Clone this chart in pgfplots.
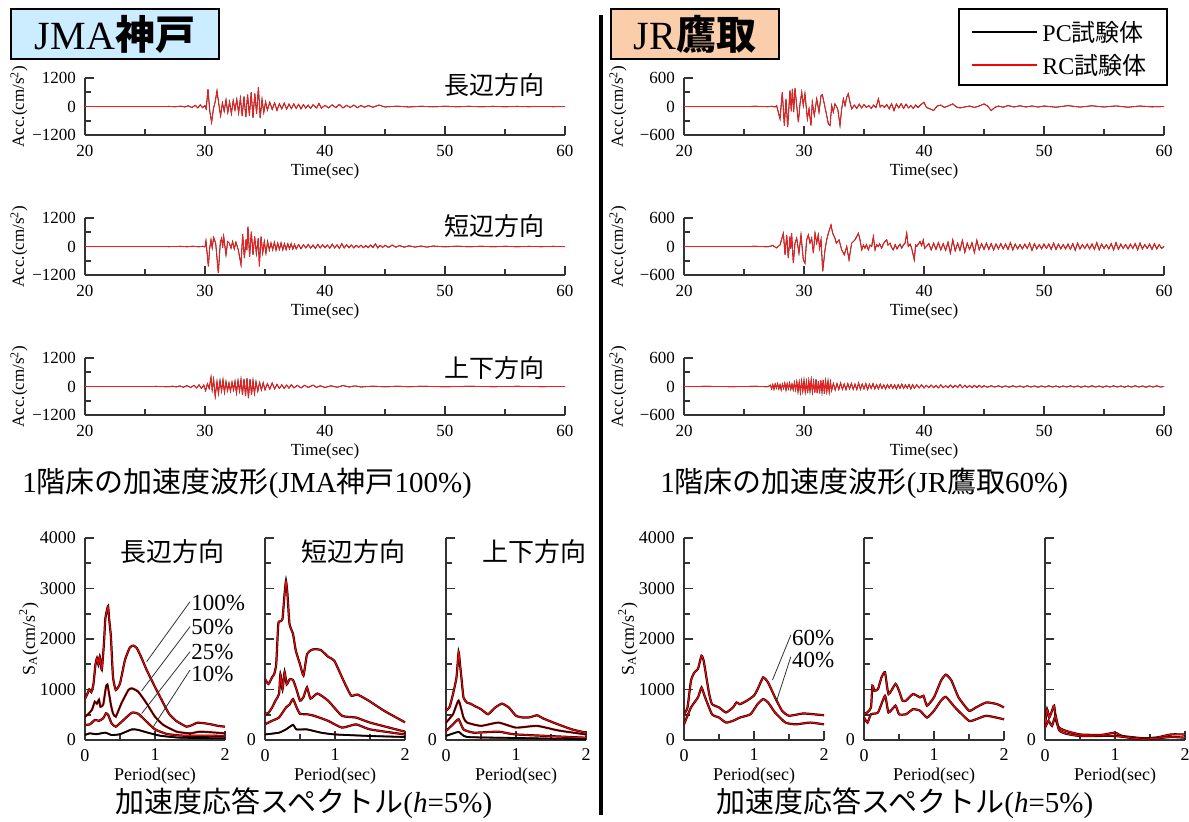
\documentclass[border=0pt]{standalone}
\usepackage{fontspec}
\setmainfont{Liberation Serif}
\newfontfamily\jp{Noto Sans CJK JP}
\usepackage{pgfplots}
\usepackage{pgfplotstable}
\pgfplotsset{compat=1.18}
\newcommand\J[1]{{\jp #1}}

% ---------- time histories ----------
\pgfplotstableread[row sep=\\]{t a\\20 0\\21 3\\22 -2\\23 4\\24 -3\\25 2\\26 -4\\27 5\\27.5 -10\\28 15\\28.3 -20\\28.6 30\\28.9 -40\\29.2 50\\29.4 -60\\29.6 70\\29.8 -50\\30.0 40\\30.1 -100\\30.25 730\\30.4 -200\\30.55 -670\\30.7 -100\\30.85 200\\31.0 660\\31.15 100\\31.3 -390\\31.45 150\\31.6 -200\\31.75 280\\31.9 -250\\32.05 200\\32.2 -300\\32.35 250\\32.5 -150\\32.65 300\\32.8 -280\\32.95 350\\33.1 -400\\33.25 420\\33.4 -450\\33.55 500\\33.7 -380\\33.85 600\\34.0 -480\\34.15 550\\34.3 -300\\34.45 800\\34.6 -490\\34.75 300\\34.9 -250\\35.05 200\\35.2 -150\\35.4 180\\35.6 -120\\35.8 150\\36.0 -160\\36.2 120\\36.4 -100\\36.6 140\\36.8 -110\\37.0 100\\37.2 -90\\37.4 110\\37.6 -80\\37.8 90\\38.0 -100\\38.2 80\\38.4 -70\\38.6 60\\38.8 -80\\39.0 70\\39.3 -60\\39.5 130\\39.7 -70\\40.0 50\\40.3 -60\\40.6 70\\40.9 -50\\41.2 90\\41.5 -60\\41.8 50\\42.1 -40\\42.4 60\\42.7 -50\\43.0 40\\43.3 -30\\43.6 40\\44.0 -30\\44.5 60\\45 -20\\46 15\\47 -20\\48 10\\49 -15\\50 12\\51 -10\\52 8\\53 -10\\54 6\\55 -8\\56 5\\57 -6\\58 4\\59 -5\\60 0\\}\tLa

\pgfplotstableread[row sep=\\]{t a\\20 0\\22 3\\24 -3\\26 4\\27 -5\\28 6\\28.5 -8\\29 10\\29.5 -12\\29.8 10\\30.0 -20\\30.08 240\\30.28 -840\\30.39 -70\\30.5 280\\30.6 -60\\30.72 380\\30.89 140\\31.11 -1120\\31.28 200\\31.39 350\\31.47 -50\\31.56 420\\31.75 -350\\31.89 210\\32.03 140\\32.17 -70\\32.3 210\\32.44 -100\\32.58 180\\32.78 -150\\33.0 -770\\33.14 520\\33.28 -490\\33.42 300\\33.49 -150\\33.58 840\\33.72 -420\\33.86 630\\34.0 -350\\34.14 420\\34.28 -300\\34.44 350\\34.53 -840\\34.67 420\\34.81 -280\\34.94 210\\35.08 -280\\35.22 210\\35.36 -150\\35.5 150\\35.64 -140\\35.78 180\\35.92 -150\\36.06 140\\36.2 -130\\36.34 150\\36.48 -140\\36.62 120\\36.76 -130\\36.9 110\\37.04 -100\\37.18 120\\37.32 -110\\37.46 90\\37.6 -100\\37.8 80\\38 -90\\38.2 70\\38.4 -60\\38.6 80\\38.8 -70\\39 60\\39.2 -80\\39.4 90\\39.6 -60\\39.8 70\\40 -50\\40.2 60\\40.4 -70\\40.6 100\\40.8 -60\\41 70\\41.2 -80\\41.4 120\\41.6 -60\\41.8 70\\42 -50\\42.2 60\\42.4 -60\\42.6 50\\42.8 -40\\43 60\\43.2 -50\\43.4 40\\43.6 -50\\43.8 60\\44 -40\\44.2 110\\44.4 -60\\44.6 50\\44.8 -40\\45 50\\45.3 -40\\45.6 60\\45.9 -30\\46.2 40\\46.6 -30\\47 30\\47.5 -25\\48 20\\48.5 -25\\49 20\\50 -15\\51 15\\52 -12\\53 10\\54 -10\\55 8\\56 -8\\57 6\\58 -6\\59 5\\60 0\\}\tLb

\pgfplotstableread[row sep=\\]{t a\\20 0\\22 3\\24 -4\\26 5\\27 -10\\27.3 15\\27.6 -20\\27.9 25\\28.2 -30\\28.5 35\\28.8 -40\\29.1 50\\29.3 -60\\29.5 70\\29.7 -80\\29.9 60\\30.05 -180\\30.2 120\\30.35 -80\\30.5 390\\30.6 -150\\30.72 300\\30.85 -420\\31.0 200\\31.12 -300\\31.25 250\\31.38 -200\\31.5 280\\31.62 -250\\31.75 200\\31.88 -180\\32.0 150\\32.12 -200\\32.25 180\\32.38 -150\\32.5 220\\32.62 -280\\32.75 250\\32.88 -200\\33.0 300\\33.12 -350\\33.25 320\\33.38 -400\\33.5 350\\33.62 -490\\33.75 310\\33.88 -350\\34.0 250\\34.12 -300\\34.25 200\\34.4 -200\\34.55 170\\34.7 -150\\34.85 160\\35.0 -140\\35.2 120\\35.4 -110\\35.6 150\\35.8 -100\\36.0 90\\36.2 -80\\36.4 70\\36.6 -80\\36.8 60\\37.0 -70\\37.2 80\\37.4 -60\\37.7 50\\38.0 -60\\38.3 50\\38.6 -40\\39.0 60\\39.3 -40\\39.6 30\\40 -40\\40.5 30\\41 -30\\41.5 40\\42 -20\\42.5 25\\43 -20\\44 15\\45 -15\\46 12\\47 -10\\48 10\\50 -8\\52 8\\54 -6\\56 6\\58 -5\\60 0\\}\tLc

\pgfplotstableread[row sep=\\]{t a\\20 0\\22 2\\24 -2\\26 3\\27 -3\\27.3 5\\27.6 -10\\27.72 20\\28.0 -260\\28.19 300\\28.36 -400\\28.5 160\\28.64 -435\\28.83 340\\28.94 -100\\29.03 370\\29.14 -120\\29.25 385\\29.39 20\\29.53 -330\\29.67 60\\29.81 300\\29.94 20\\30.08 270\\30.28 -260\\30.42 -50\\30.58 -400\\30.69 90\\30.86 -190\\31.06 160\\31.25 -120\\31.42 230\\31.53 250\\31.69 55\\31.89 -190\\32.03 -365\\32.17 -400\\32.31 20\\32.44 -120\\32.58 55\\32.81 -50\\33.0 -400\\33.14 -50\\33.28 160\\33.42 20\\33.56 200\\33.69 270\\33.83 90\\33.97 -50\\34.2 30\\34.4 -40\\34.6 50\\34.8 -30\\35.0 40\\35.2 -20\\35.4 20\\35.6 -40\\35.8 30\\36.0 -20\\36.2 160\\36.35 -10\\36.5 30\\36.7 -20\\36.9 40\\37.1 -50\\37.3 60\\37.5 -85\\37.7 50\\37.9 -30\\38.1 60\\38.3 -40\\38.5 50\\38.7 -30\\38.9 20\\39.1 -40\\39.3 30\\39.5 -20\\39.7 30\\40.0 90\\40.2 -20\\40.5 -50\\40.8 -85\\41.1 10\\41.4 30\\41.7 -20\\42.0 10\\42.4 55\\42.7 -10\\43.0 -30\\43.4 -10\\43.8 10\\44.2 -20\\44.6 10\\45.0 55\\45.3 10\\45.6 -85\\45.9 -20\\46.2 10\\46.6 -15\\47 20\\47.5 -10\\48 15\\48.5 -10\\49 12\\49.5 -12\\50 10\\51 -15\\52 18\\53 -12\\54 15\\55 -10\\56 12\\57 -15\\58 10\\59 -8\\60 0\\}\tRa

\pgfplotstableread[row sep=\\]{t a\\20 0\\22 2\\24 -2\\26 3\\27 -5\\27.4 20\\27.7 -30\\28.0 30\\28.28 280\\28.42 -175\\28.56 245\\28.69 -245\\28.83 210\\28.9 -50\\28.97 280\\29.11 -350\\29.25 70\\29.39 175\\29.58 -140\\29.75 245\\29.94 -280\\30.08 -350\\30.22 140\\30.36 245\\30.5 70\\30.64 175\\30.78 -140\\30.92 280\\31.06 70\\31.19 245\\31.3 -40\\31.42 140\\31.56 -525\\31.75 -70\\31.89 140\\32.03 280\\32.25 455\\32.39 280\\32.58 175\\32.69 70\\32.92 140\\33.14 -70\\33.36 -175\\33.56 0\\33.75 -280\\33.97 70\\34.25 140\\34.53 280\\34.67 140\\34.81 -70\\34.95 30\\35.08 -35\\35.2 40\\35.36 -70\\35.5 30\\35.64 0\\35.78 210\\35.92 -70\\36.05 40\\36.19 0\\36.3 60\\36.47 -35\\36.6 50\\36.75 105\\36.89 140\\37.0 30\\37.17 70\\37.3 -20\\37.44 -70\\37.6 40\\37.75 -50\\37.86 0\\38.0 50\\38.14 -35\\38.3 40\\38.42 70\\38.56 280\\38.69 0\\38.85 50\\38.97 -35\\39.19 -280\\39.3 30\\39.39 0\\39.55 60\\39.67 105\\39.8 20\\39.94 140\\40.05 -40\\40.2 0\\40.4 60\\40.6 -70\\40.8 70\\41.0 -60\\41.2 80\\41.4 -70\\41.6 60\\41.8 -80\\42.0 90\\42.2 -140\\42.4 140\\42.6 -90\\42.8 70\\43.0 -80\\43.2 130\\43.4 -120\\43.6 70\\43.8 -60\\44.0 80\\44.2 -130\\44.4 130\\44.6 -70\\44.8 60\\45.0 -60\\45.2 70\\45.4 -60\\45.6 60\\45.8 -70\\46.0 50\\46.2 -50\\46.4 60\\46.6 -50\\46.8 50\\47.0 -60\\47.2 80\\47.4 -70\\47.6 50\\47.8 -50\\48.0 40\\48.2 -50\\48.4 50\\48.6 -40\\48.8 70\\49.0 -80\\49.2 60\\49.4 -50\\49.6 40\\49.8 -50\\50.0 50\\50.2 -40\\50.4 50\\50.6 -60\\50.8 70\\51.0 -60\\51.2 50\\51.4 -50\\51.6 40\\51.8 -50\\52.0 50\\52.2 -60\\52.4 60\\52.6 -80\\52.8 70\\53.0 -50\\53.2 40\\53.4 -40\\53.6 50\\53.8 -50\\54.0 50\\54.2 -60\\54.4 80\\54.6 -70\\54.8 50\\55.0 -40\\55.2 40\\55.4 -50\\55.6 60\\55.8 -70\\56.0 80\\56.2 -60\\56.4 50\\56.6 -40\\56.8 40\\57.0 -50\\57.2 50\\57.4 -40\\57.6 60\\57.8 -70\\58.0 70\\58.2 -50\\58.4 40\\58.6 -40\\58.8 50\\59.0 -60\\59.2 60\\59.4 -50\\59.6 40\\59.8 -40\\60.0 0\\}\tRb

\pgfplotstableread[row sep=\\]{t a\\20 0\\22 3\\24 -3\\26 4\\27 -5\\27.2 30\\27.3 -50\\27.4 40\\27.5 -60\\27.6 50\\27.7 -35\\27.8 60\\27.9 -50\\28.0 40\\28.1 -70\\28.2 50\\28.3 -40\\28.4 70\\28.5 -75\\28.6 60\\28.7 -50\\28.8 75\\28.9 -60\\29.0 50\\29.1 -70\\29.2 85\\29.3 -75\\29.4 100\\29.5 -110\\29.6 90\\29.7 -125\\29.8 115\\29.9 -100\\30.0 130\\30.1 -115\\30.2 105\\30.3 -140\\30.4 120\\30.5 -100\\30.6 140\\30.7 -120\\30.8 105\\30.9 -130\\31.0 155\\31.1 -140\\31.2 115\\31.3 -145\\31.4 130\\31.5 -115\\31.6 140\\31.7 -155\\31.8 120\\31.9 -105\\32.0 115\\32.1 -120\\32.2 100\\32.3 -85\\32.45 65\\32.6 -75\\32.75 60\\32.9 -65\\33.05 75\\33.2 -60\\33.35 50\\33.5 -65\\33.65 60\\33.8 -50\\33.95 65\\34.1 -60\\34.25 50\\34.4 -65\\34.55 75\\34.7 -60\\34.85 50\\35.0 -50\\35.15 60\\35.3 -65\\35.45 50\\35.6 -40\\35.75 60\\35.9 -50\\36.05 40\\36.2 -50\\36.35 50\\36.5 -40\\36.65 35\\36.8 -50\\36.95 40\\37.1 -35\\37.25 40\\37.4 -40\\37.55 35\\37.7 -50\\37.85 40\\38.0 -35\\38.15 50\\38.3 -40\\38.45 35\\38.6 -35\\38.75 40\\38.9 -50\\39.05 40\\39.2 -35\\39.4 35\\39.6 -30\\39.8 35\\40.0 -30\\40.2 25\\40.4 -25\\40.6 30\\40.8 -25\\41.0 25\\41.2 -30\\41.4 35\\41.6 -25\\41.8 20\\42.0 -25\\42.2 30\\42.4 -25\\42.6 25\\42.8 -20\\43.0 40\\43.2 -25\\43.4 25\\43.6 -20\\43.8 20\\44.0 -25\\44.2 25\\44.4 -20\\44.6 25\\44.8 -20\\45.0 15\\45.3 -15\\45.6 15\\45.9 -12\\46.2 15\\46.5 -15\\46.8 12\\47.1 -15\\47.4 15\\47.7 -12\\48.0 12\\48.3 -15\\48.6 15\\48.9 -12\\49.2 12\\49.5 -15\\49.8 12\\50.1 -12\\50.4 15\\50.7 -12\\51.0 12\\51.3 -15\\51.6 12\\51.9 -12\\52.2 15\\52.5 -12\\52.8 12\\53.1 -15\\53.4 12\\53.7 -12\\54.0 15\\54.3 -12\\54.6 12\\54.9 -15\\55.2 12\\55.5 -12\\55.8 15\\56.1 -12\\56.4 12\\56.7 -15\\57.0 12\\57.3 -12\\57.6 15\\57.9 -12\\58.2 12\\58.5 -15\\58.8 12\\59.1 -12\\59.4 15\\59.7 -12\\60.0 0\\}\tRc

% ---------- spectra: JMA Kobe ----------
\pgfplotstableread[row sep=\\]{T s\\0 820\\0.03 900\\0.06 1000\\0.09 950\\0.12 1100\\0.15 1500\\0.17 1620\\0.19 1500\\0.21 1650\\0.24 1390\\0.27 1900\\0.29 2400\\0.31 2550\\0.33 2650\\0.345 2400\\0.37 2050\\0.4 1250\\0.44 990\\0.5 1120\\0.57 1580\\0.64 1830\\0.69 1870\\0.74 1820\\0.8 1650\\0.88 1390\\1.0 1050\\1.12 726\\1.2 520\\1.3 380\\1.36 330\\1.45 264\\1.52 290\\1.6 340\\1.69 335\\1.8 310\\1.9 280\\2.0 264\\}\sAa
\pgfplotstableread[row sep=\\]{T s\\0 460\\0.05 520\\0.1 600\\0.14 760\\0.17 720\\0.2 800\\0.22 660\\0.26 700\\0.3 1056\\0.32 1100\\0.34 950\\0.37 700\\0.4 528\\0.44 462\\0.52 726\\0.62 990\\0.67 1023\\0.76 957\\0.88 726\\1.0 462\\1.12 297\\1.31 165\\1.5 132\\1.64 165\\1.83 150\\2.0 132\\}\sAb
\pgfplotstableread[row sep=\\]{T s\\0 297\\0.07 310\\0.14 396\\0.2 380\\0.26 430\\0.3 528\\0.33 500\\0.38 330\\0.44 264\\0.55 396\\0.67 541\\0.76 520\\0.88 363\\1.0 211\\1.17 119\\1.4 86\\1.7 86\\2.0 80\\}\sAc
\pgfplotstableread[row sep=\\]{T s\\0 99\\0.07 132\\0.16 115\\0.29 145\\0.38 99\\0.5 115\\0.67 211\\0.76 200\\0.88 152\\1.07 86\\1.36 46\\2.0 33\\}\sAd

\pgfplotstableread[row sep=\\]{T s\\0 1210\\0.05 1110\\0.1 1240\\0.13 1300\\0.16 1500\\0.19 2300\\0.22 2350\\0.25 2400\\0.28 2900\\0.3 3150\\0.32 2900\\0.35 2300\\0.4 2100\\0.44 1770\\0.5 1500\\0.55 1280\\0.6 1700\\0.66 1780\\0.71 1800\\0.8 1780\\0.9 1650\\0.99 1570\\1.12 1180\\1.23 880\\1.32 900\\1.48 780\\1.7 580\\2.0 350\\}\sBa
\pgfplotstableread[row sep=\\]{T s\\0 510\\0.05 540\\0.1 640\\0.15 780\\0.2 910\\0.22 1300\\0.25 1000\\0.28 1350\\0.31 1100\\0.35 1200\\0.4 1190\\0.45 1000\\0.5 780\\0.55 850\\0.6 1040\\0.65 820\\0.75 920\\0.9 780\\1.1 480\\1.3 445\\1.5 345\\2.0 165\\}\sBb
\pgfplotstableread[row sep=\\]{T s\\0 310\\0.1 380\\0.2 445\\0.3 645\\0.35 700\\0.4 810\\0.45 650\\0.5 520\\0.6 510\\0.7 480\\0.9 380\\1.1 245\\1.3 310\\1.5 210\\2.0 110\\}\sBc
\pgfplotstableread[row sep=\\]{T s\\0 110\\0.2 145\\0.3 210\\0.4 300\\0.45 210\\0.6 210\\0.8 145\\1.0 110\\1.5 80\\2.0 60\\}\sBd

\pgfplotstableread[row sep=\\]{T s\\0 580\\0.05 650\\0.1 910\\0.15 1240\\0.18 1740\\0.2 1500\\0.22 1240\\0.25 840\\0.3 740\\0.35 720\\0.4 680\\0.5 610\\0.6 510\\0.7 640\\0.8 720\\0.9 640\\1.0 480\\1.1 445\\1.2 450\\1.3 490\\1.4 420\\1.6 310\\1.8 210\\2.0 145\\}\sCa
\pgfplotstableread[row sep=\\]{T s\\0 345\\0.1 510\\0.18 780\\0.25 445\\0.3 345\\0.5 280\\0.75 345\\1.0 245\\1.3 280\\1.6 190\\2.0 110\\}\sCb
\pgfplotstableread[row sep=\\]{T s\\0 180\\0.1 310\\0.18 410\\0.25 210\\0.4 145\\0.75 165\\1.0 110\\2.0 45\\}\sCc
\pgfplotstableread[row sep=\\]{T s\\0 80\\0.18 160\\0.3 60\\1.0 40\\2.0 15\\}\sCd

% ---------- spectra: JR Takatori ----------
\pgfplotstableread[row sep=\\]{T s\\0 510\\0.05 645\\0.1 1180\\0.15 1340\\0.2 1410\\0.25 1670\\0.28 1575\\0.32 1240\\0.36 910\\0.4 710\\0.5 645\\0.6 545\\0.7 645\\0.75 745\\0.8 710\\0.9 780\\1.0 880\\1.05 1000\\1.13 1240\\1.2 1140\\1.3 845\\1.4 580\\1.5 480\\1.7 525\\1.85 510\\2.0 490\\}\sDa
\pgfplotstableread[row sep=\\]{T s\\0 310\\0.1 645\\0.2 845\\0.25 1040\\0.3 850\\0.4 510\\0.5 445\\0.6 345\\0.7 380\\0.8 445\\0.95 510\\1.05 710\\1.13 810\\1.2 745\\1.3 545\\1.45 345\\1.6 310\\1.8 345\\2.0 310\\}\sDb
\pgfplotstableread[row sep=\\]{T s\\0 510\\0.05 550\\0.1 645\\0.12 1075\\0.15 975\\0.2 1010\\0.25 1240\\0.3 1340\\0.35 910\\0.45 1110\\0.5 975\\0.55 780\\0.6 780\\0.7 910\\0.8 845\\0.85 875\\0.9 680\\1.0 845\\1.1 1175\\1.17 1295\\1.25 1175\\1.35 845\\1.5 580\\1.6 645\\1.75 745\\1.9 710\\2.0 645\\}\sEa
\pgfplotstableread[row sep=\\]{T s\\0 445\\0.05 345\\0.1 510\\0.2 545\\0.3 875\\0.35 545\\0.45 680\\0.5 510\\0.6 510\\0.7 610\\0.8 580\\0.9 445\\1.0 580\\1.1 780\\1.17 855\\1.3 645\\1.5 380\\1.6 410\\1.75 480\\2.0 410\\}\sEb
\pgfplotstableread[row sep=\\]{T s\\0 310\\0.03 610\\0.06 445\\0.1 580\\0.13 680\\0.16 380\\0.2 245\\0.3 180\\0.5 110\\0.8 100\\1.0 145\\1.1 80\\1.4 35\\1.6 50\\1.8 110\\2.0 110\\}\sFa
\pgfplotstableread[row sep=\\]{T s\\0 245\\0.05 380\\0.1 280\\0.15 480\\0.2 195\\0.3 125\\0.5 80\\1.0 80\\1.4 15\\1.8 60\\2.0 45\\}\sFb

\newcommand\pT[1]{\addplot[black,line width=0.4pt] table{#1};\addplot[red!90!white,line width=0.4pt] table{#1};}
\newcommand\pR[1]{\addplot[black,line width=1.1pt,smooth,tension=0.3] table{#1};\addplot[red,line width=0.55pt,smooth,tension=0.3] table{#1};}
\newcommand\pB[1]{\addplot[red,line width=1.1pt,smooth,tension=0.3] table{#1};\addplot[black,line width=0.6pt,smooth,tension=0.3] table{#1};}
\newcommand\pK[1]{\addplot[red,line width=0.8pt,smooth,tension=0.3] table{#1};\addplot[black,line width=0.9pt,smooth,tension=0.3] table{#1};}

\pgfplotsset{
  myax/.style={scale only axis, axis lines=left,
    axis line style={-,line width=0.9pt,black!80},
    every tick/.style={line width=0.9pt,black!80},
    tick align=inside, major tick length=4.5pt, minor tick length=2.8pt, clip=false},
  th/.style={myax, width=240pt, height=28.5pt, xmin=20, xmax=60,
    xtick={20,30,40,50,60}, minor xtick={25,35,45,55}, xticklabels={20,30,40,50,60},
    tick label style={font=\fontsize{8.5}{9}\selectfont},
    xticklabel style={yshift=-1.5pt}, yticklabel style={xshift=-1pt},
    xlabel={Time(sec)}, ylabel={Acc.(cm/s\textsuperscript{2})},
    label style={font=\fontsize{8.5}{9}\selectfont},
    xlabel style={at={(axis description cs:0.5,-0.632)}, anchor=center},
    ylabel style={at={(axis description cs:-0.1375,0.5)}, anchor=center}},
  thL/.style={th, ymin=-1200, ymax=1200, ytick={-1200,0,1200}, minor ytick={-600,600}, yticklabels={−1200,0,1200}},
  thR/.style={th, ymin=-600, ymax=600, ytick={-600,0,600}, minor ytick={-300,300}, yticklabels={−600,0,600}},
  sp/.style={myax, width=70pt, height=101pt, xmin=0, xmax=2, ymin=0, ymax=4000,
    xtick={0,1,2}, minor xtick={0.5,1.5}, xticklabels={0,1,2},
    ytick={0,1000,2000,3000,4000}, minor ytick={500,1500,2500,3500},
    tick label style={font=\fontsize{9}{10}\selectfont},
    xticklabel style={yshift=-1pt}, yticklabel style={xshift=-1pt},
    xlabel={Period(sec)}, label style={font=\fontsize{9}{10}\selectfont},
    xlabel style={at={(axis description cs:0.5,-0.178)}, anchor=center},
    ylabel style={at={(axis description cs:-0.40,0.5)}, anchor=center}},
  sp1/.style={sp, yticklabels={0,1000,2000,3000,4000}, ylabel={S\textsubscript{A}(cm/s\textsuperscript{2})}},
  sp2/.style={sp, yticklabels={0,{},{},{},{}}},
}

\begin{document}
\begin{tikzpicture}
\path[use as bounding box] (0,0) rectangle (594.5pt,410.5pt);

% time histories left
\begin{axis}[thL, at={(42.5pt,343pt)}, anchor=south west]\pT{\tLa}\end{axis}
\begin{axis}[thL, at={(42.5pt,273pt)}, anchor=south west]\pT{\tLb}\end{axis}
\begin{axis}[thL, at={(42.5pt,203pt)}, anchor=south west]\pT{\tLc}\end{axis}
% time histories right
\begin{axis}[thR, at={(342pt,343pt)}, anchor=south west]\pT{\tRa}\end{axis}
\begin{axis}[thR, at={(342pt,273pt)}, anchor=south west]\pT{\tRb}\end{axis}
\begin{axis}[thR, at={(342pt,203pt)}, anchor=south west]\pT{\tRc}\end{axis}

% spectra left
\begin{axis}[sp1, at={(42.5pt,40.5pt)}, anchor=south west]
\pR{\sAa}\pB{\sAb}\pR{\sAc}\pK{\sAd}
\draw[black!80,line width=0.4pt] (axis cs:0.88,1550) -- (axis cs:1.5,2739);
\draw[black!80,line width=0.4pt] (axis cs:0.81,975) -- (axis cs:1.5,2244);
\draw[black!80,line width=0.4pt] (axis cs:0.81,525) -- (axis cs:1.5,1748);
\draw[black!80,line width=0.4pt] (axis cs:0.976,264) -- (axis cs:1.5,1386);
\node[anchor=west,inner sep=0.5pt,font=\fontsize{11.5}{12}\selectfont] at (axis cs:1.5,2713) {100\%};
\node[anchor=west,inner sep=0.5pt,font=\fontsize{11.5}{12}\selectfont] at (axis cs:1.5,2238) {50\%};
\node[anchor=west,inner sep=0.5pt,font=\fontsize{11.5}{12}\selectfont] at (axis cs:1.5,1743) {25\%};
\node[anchor=west,inner sep=0.5pt,font=\fontsize{11.5}{12}\selectfont] at (axis cs:1.5,1307) {10\%};
\end{axis}
\begin{axis}[sp2, at={(132.5pt,40.5pt)}, anchor=south west]
\pR{\sBa}\pR{\sBb}\pR{\sBc}\pK{\sBd}
\end{axis}
\begin{axis}[sp2, at={(223pt,40.5pt)}, anchor=south west]
\pR{\sCa}\pB{\sCb}\pR{\sCc}\pK{\sCd}
\end{axis}

% spectra right
\begin{axis}[sp1, at={(342pt,40.5pt)}, anchor=south west]
\pR{\sDa}\pR{\sDb}
\draw[black!80,line width=0.4pt] (axis cs:1.264,1188) -- (axis cs:1.526,2079);
\draw[black!80,line width=0.4pt] (axis cs:1.319,758) -- (axis cs:1.526,1650);
\node[anchor=west,inner sep=0.5pt,font=\fontsize{11.5}{12}\selectfont] at (axis cs:1.526,2020) {60\%};
\node[anchor=west,inner sep=0.5pt,font=\fontsize{11.5}{12}\selectfont] at (axis cs:1.526,1584) {40\%};
\end{axis}
\begin{axis}[sp2, at={(432pt,40.5pt)}, anchor=south west]
\pR{\sEa}\pR{\sEb}
\end{axis}
\begin{axis}[sp2, at={(522.5pt,40.5pt)}, anchor=south west]
\pR{\sFa}\pR{\sFb}
\end{axis}

% divider
\draw[black,line width=2pt] (300.5pt,3pt) -- (300.5pt,403pt);

% title boxes
\draw[black,line width=0.6pt,fill={rgb,255:red,204;green,236;blue,255}] (5.5pt,381pt) rectangle (109.5pt,406pt);
\node at (57.5pt,393.5pt) {\fontsize{20}{22}\selectfont JMA{\jp\bfseries 神戸}};
\draw[black,line width=0.6pt,fill={rgb,255:red,250;green,206;blue,170}] (305.5pt,381pt) rectangle (389.5pt,406pt);
\node at (347.5pt,393.5pt) {\fontsize{20}{22}\selectfont JR{\jp\bfseries 鷹取}};

% legend
\draw[black,line width=0.7pt,fill=white] (479.5pt,368pt) rectangle (583.5pt,406pt);
\draw[black,line width=1.3pt] (486pt,394.5pt) -- (518.5pt,394.5pt);
\draw[red,line width=1.3pt] (486pt,378pt) -- (518.5pt,378pt);
\node[anchor=west,inner sep=0pt] at (521pt,394.5pt) {\fontsize{12}{14}\selectfont PC\J{試験体}};
\node[anchor=west,inner sep=0pt] at (521pt,378pt) {\fontsize{12}{14}\selectfont RC\J{試験体}};

% direction labels (time histories)
\node[anchor=east,inner sep=0pt] at (272.5pt,368pt) {\jp\fontsize{12.5}{14}\selectfont 長辺方向};
\node[anchor=east,inner sep=0pt] at (272.5pt,297.5pt) {\jp\fontsize{12.5}{14}\selectfont 短辺方向};
\node[anchor=east,inner sep=0pt] at (272.5pt,226.5pt) {\jp\fontsize{12.5}{14}\selectfont 上下方向};

% direction labels (spectra)
\node[anchor=east,inner sep=0pt] at (112.5pt,134.5pt) {\jp\fontsize{13}{14}\selectfont 長辺方向};
\node[anchor=east,inner sep=0pt] at (203pt,134.5pt) {\jp\fontsize{13}{14}\selectfont 短辺方向};
\node[anchor=east,inner sep=0pt] at (293.5pt,134.5pt) {\jp\fontsize{13}{14}\selectfont 上下方向};

% captions
\node[anchor=west,inner sep=0pt] at (11pt,169pt) {\fontsize{14.5}{16}\selectfont 1\J{階床の加速度波形}(JMA\J{神戸}100\%)};
\node[anchor=west,inner sep=0pt] at (330pt,169pt) {\fontsize{14.5}{16}\selectfont 1\J{階床の加速度波形}(JR\J{鷹取}60\%)};
\node[anchor=west,inner sep=0pt] at (57.5pt,9pt) {\fontsize{14.5}{16}\selectfont \J{加速度応答スペクトル}(\textit{h}=5\%)};
\node[anchor=west,inner sep=0pt] at (358pt,9pt) {\fontsize{14.5}{16}\selectfont \J{加速度応答スペクトル}(\textit{h}=5\%)};
\end{tikzpicture}
\end{document}
